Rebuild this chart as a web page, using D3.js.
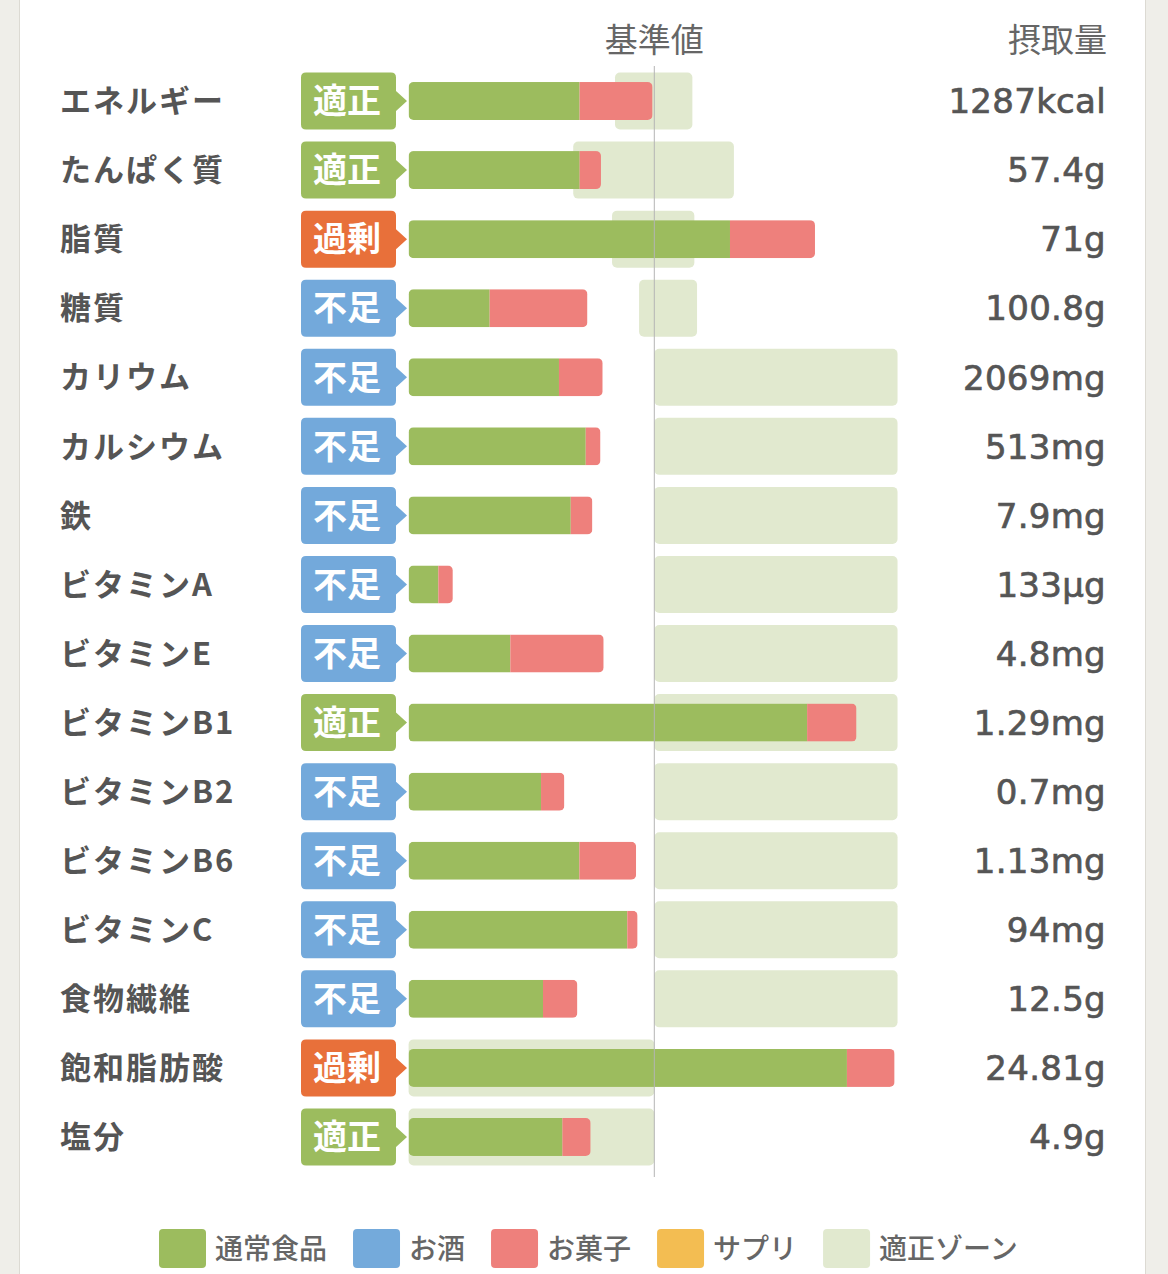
<!DOCTYPE html>
<html lang="ja">
<head>
<meta charset="utf-8">
<script src="https://cdn.jsdelivr.net/npm/d3@7"></script>
<style>
  html, body { margin: 0; padding: 0; background: #efeee9; }
  #chart { width: 1168px; height: 1274px; }
  text { font-family: "Noto Sans CJK JP", "Noto Sans", sans-serif; }
</style>
</head>
<body>
<div id="chart"></div>
<script>
// --- data (percent of reference value) ---
const nutrients = ['エネルギー', 'たんぱく質', '脂質', '糖質', 'カリウム', 'カルシウム', '鉄',
  'ビタミンA', 'ビタミンE', 'ビタミンB1', 'ビタミンB2', 'ビタミンB6', 'ビタミンC', '食物繊維', '飽和脂肪酸', '塩分'];
const status = ['適正', '適正', '過剰', '不足', '不足', '不足', '不足', '不足', '不足', '適正', '不足', '不足', '不足', '不足', '過剰', '適正'];
const normalFood = [69.6, 69.6, 130.8, 33.0, 61.2, 72.1, 66.0, 12.1, 41.4, 162.2, 53.9, 69.5, 89.0, 54.7, 178.4, 62.6];
const alcohol    = [0, 0, 0, 0, 0, 0, 0, 0, 0, 0, 0, 0, 0, 0, 0, 0];
const sweets     = [29.7, 8.7, 34.6, 39.8, 17.8, 6.0, 8.8, 5.9, 38.0, 20.1, 9.5, 23.1, 4.2, 14.0, 19.4, 11.5];
const supplement = [0, 0, 0, 0, 0, 0, 0, 0, 0, 0, 0, 0, 0, 0, 0, 0];
const zoneLow    = [84.0, 67.0, 82.8, 93.8, 100, 100, 100, 100, 100, 100, 100, 100, 100, 100, 0, 0];
const zoneHigh   = [115.5, 132.4, 116.3, 117.4, 199, 199, 199, 199, 199, 199, 199, 199, 199, 199, 100, 100];
const intake = ['1287kcal', '57.4g', '71g', '100.8g', '2069mg', '513mg', '7.9mg', '133µg', '4.8mg',
  '1.29mg', '0.7mg', '1.13mg', '94mg', '12.5g', '24.81g', '4.9g'];
const legendLabels = ['通常食品', 'お酒', 'お菓子', 'サプリ', '適正ゾーン'];

// --- config ---
const W = 1168, H = 1274;
const seriesKeys = ['normal', 'alcohol', 'sweets', 'supplement'];
const seriesColor = { normal: '#9cbc5e', alcohol: '#74aadb', sweets: '#ee807c', supplement: '#f3bd52' };
const zoneColor = '#e1e9cf';
const statusColor = { '適正': '#9cbc5e', '過剰': '#e8703a', '不足': '#73a9db' };
const textColor = '#555';

const rows = nutrients.map((n, i) => ({
  name: n, status: status[i], intake: intake[i], lo: zoneLow[i], hi: zoneHigh[i],
  normal: normalFood[i], alcohol: alcohol[i], sweets: sweets[i], supplement: supplement[i]
}));

const x = d3.scaleLinear().domain([0, 200]).range([408.6, 900]);
const y = d3.scaleBand().domain(nutrients).range([66.5, 1171.5]).paddingInner(0);
const zoneH = 57, barH = 38;

const svg = d3.select('#chart').append('svg')
  .attr('width', W).attr('height', H);

// card
svg.append('rect')
  .attr('x', 19.5).attr('y', -10).attr('width', 1126).attr('height', H + 20)
  .attr('fill', '#fff').attr('stroke', '#dcdad3');

// headers
svg.append('text').attr('x', x(100)).attr('y', 52)
  .attr('text-anchor', 'middle').attr('font-size', 33).attr('fill', '#666')
  .text('基準値');
svg.append('text').attr('x', 1107).attr('y', 52)
  .attr('text-anchor', 'end').attr('font-size', 33).attr('fill', '#666')
  .text('摂取量');

const row = svg.selectAll('g.row').data(rows).join('g')
  .attr('class', 'row')
  .attr('transform', d => `translate(0,${y(d.name) + y.bandwidth() / 2})`);

// appropriate zone
row.append('rect')
  .attr('x', d => x(d.lo)).attr('y', -zoneH / 2)
  .attr('width', d => x(d.hi) - x(d.lo)).attr('height', zoneH)
  .attr('rx', 5).attr('fill', zoneColor);

// stacked bars, clipped to a rounded bar
const stack = d3.stack().keys(seriesKeys)(rows);
const defs = svg.append('defs');
rows.forEach((d, i) => {
  const total = seriesKeys.reduce((s, k) => s + d[k], 0);
  defs.append('clipPath').attr('id', 'clip' + i)
    .append('rect')
    .attr('x', x(0)).attr('y', -barH / 2)
    .attr('width', x(total) - x(0)).attr('height', barH).attr('rx', 5);
});
row.each(function (d, i) {
  const g = d3.select(this).append('g').attr('clip-path', `url(#clip${i})`);
  stack.forEach(s => {
    const seg = s[i];
    if (seg[1] - seg[0] <= 0) return;
    g.append('rect')
      .attr('x', x(seg[0])).attr('y', -barH / 2)
      .attr('width', x(seg[1]) - x(seg[0])).attr('height', barH)
      .attr('fill', seriesColor[s.key]);
  });
});

// reference line
svg.append('line')
  .attr('x1', x(100)).attr('x2', x(100))
  .attr('y1', 66).attr('y2', 1177)
  .attr('stroke', '#b5b5b5').attr('stroke-width', 1);

// labels
row.append('text')
  .attr('x', 60).attr('dy', '0.36em')
  .attr('font-size', 31).attr('font-weight', 700).attr('letter-spacing', 2)
  .attr('fill', textColor)
  .text(d => d.name);

// status badges
function badgePath(x0, x1, h, tip) {
  const r = 5, t = -h / 2, b = h / 2, a = 10;
  return `M${x0 + r},${t} H${x1 - r} Q${x1},${t} ${x1},${t + r} V${-a} L${x1 + tip},0 L${x1},${a}
    V${b - r} Q${x1},${b} ${x1 - r},${b} H${x0 + r} Q${x0},${b} ${x0},${b - r} V${t + r} Q${x0},${t} ${x0 + r},${t} Z`;
}
row.append('path')
  .attr('d', badgePath(301, 396, zoneH, 11))
  .attr('fill', d => statusColor[d.status]);
row.append('text')
  .attr('x', 347).attr('dy', '0.36em')
  .attr('text-anchor', 'middle').attr('font-size', 34).attr('font-weight', 700)
  .attr('fill', '#fff')
  .text(d => d.status);

// intake values
row.append('text')
  .attr('x', 1106).attr('dy', '0.36em')
  .attr('text-anchor', 'end').attr('font-size', 34)
  .attr('letter-spacing', 0.3)
  .style('font-family', '"DejaVu Sans", sans-serif')
  .attr('fill', textColor)
  .attr('stroke', textColor).attr('stroke-width', 0.7)
  .text(d => d.intake);

// legend
const legendColors = [seriesColor.normal, seriesColor.alcohol, seriesColor.sweets, seriesColor.supplement, zoneColor];
const legend = svg.append('g').attr('transform', 'translate(159,1249)');
let lx = 0;
legendLabels.forEach((lab, i) => {
  const g = legend.append('g').attr('transform', `translate(${lx},0)`);
  g.append('rect').attr('x', 0).attr('y', -20).attr('width', 47).attr('height', 39)
    .attr('rx', 4).attr('fill', legendColors[i]);
  const t = g.append('text').attr('x', 56).attr('dy', '0.36em')
    .attr('font-size', 28).attr('font-weight', 500).attr('fill', '#666')
    .text(lab);
  lx += 56 + t.node().getComputedTextLength() + 26;
});
</script>
</body>
</html>
